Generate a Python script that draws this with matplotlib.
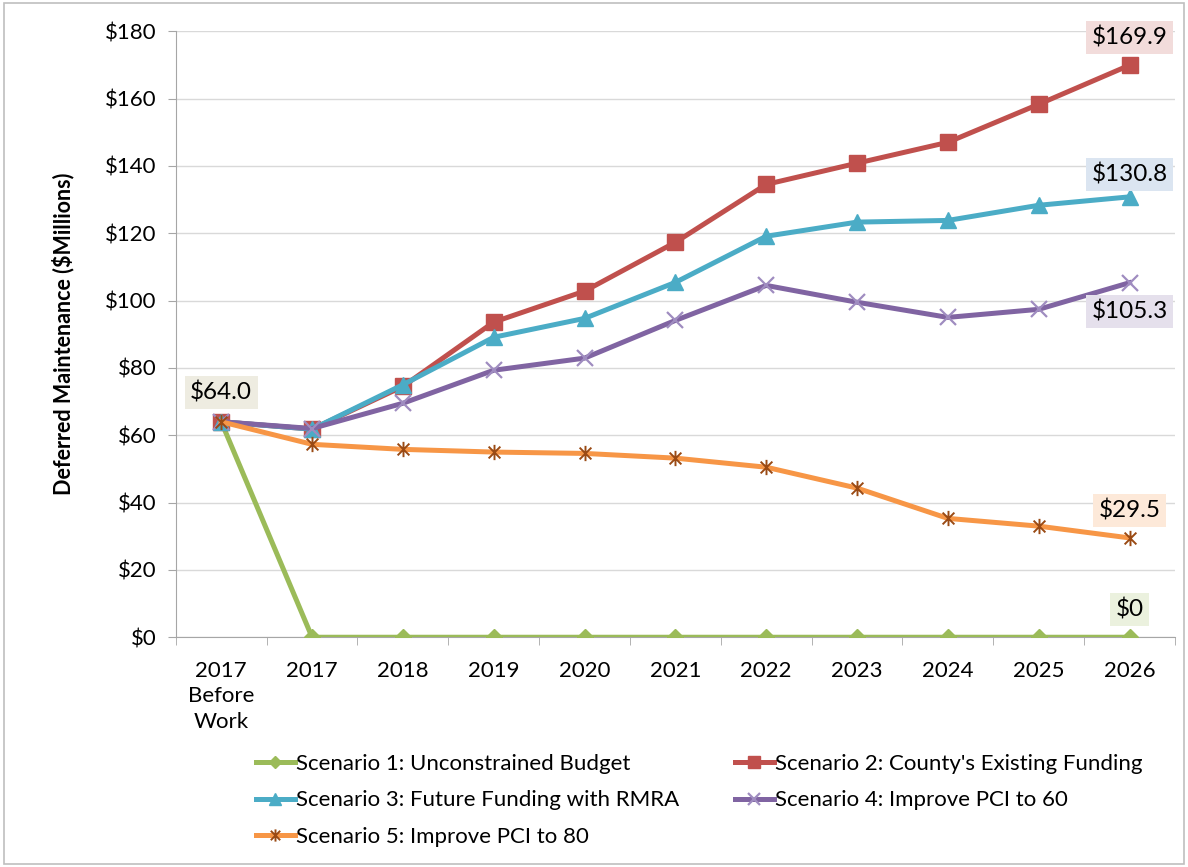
import matplotlib.pyplot as plt
import numpy as np
from matplotlib.path import Path
from matplotlib.patches import Rectangle

plt.rcParams['font.family'] = ['Lato', 'DejaVu Sans']

categories = ['2017\nBefore\nWork', '2017', '2018', '2019', '2020', '2021',
              '2022', '2023', '2024', '2025', '2026']

s1 = [64.0, 0, 0, 0, 0, 0, 0, 0, 0, 0, 0]
s2 = [64.0, 61.8, 74.5, 93.6, 102.8, 117.3, 134.5, 140.8, 147.0, 158.3, 169.9]
s3 = [64.0, 61.8, 75.0, 89.1, 94.7, 105.4, 119.1, 123.3, 123.8, 128.3, 130.8]
s4 = [64.0, 62.0, 69.5, 79.3, 82.9, 94.1, 104.5, 99.5, 95.0, 97.4, 105.3]
s5 = [64.0, 57.3, 55.8, 55.0, 54.6, 53.2, 50.5, 44.3, 35.3, 33.0, 29.5]

names = ['Scenario 1: Unconstrained Budget',
         "Scenario 2: County's Existing Funding",
         'Scenario 3: Future Funding with RMRA',
         'Scenario 4: Improve PCI to 60',
         'Scenario 5: Improve PCI to 80']

# excel-ish "star" marker: an x with a vertical bar
star = Path([(-1, -1), (1, 1), (-1, 1), (1, -1), (0, -1.3), (0, 1.3)],
            [Path.MOVETO, Path.LINETO, Path.MOVETO, Path.LINETO, Path.MOVETO, Path.LINETO])

fig = plt.figure(figsize=(11.88, 8.67), dpi=100)
ax = fig.add_axes([0.148, 0.265, 0.841, 0.699])

x = np.arange(len(categories))
lw = 3.6
h1, = ax.plot(x, s1, color='#9BBB59', lw=lw, marker='D', ms=8, mfc='#9BBB59', mec='#9BBB59', zorder=3)
h2, = ax.plot(x, s2, color='#C0504D', lw=lw, marker='s', ms=11, mfc='#C0504D', mec='#C0504D', zorder=3)
h3, = ax.plot(x, s3, color='#4BACC6', lw=lw, marker='^', ms=11, mfc='#4BACC6', mec='#4BACC6', zorder=3)
h4, = ax.plot(x, s4, color='#8064A2', lw=lw, marker='x', ms=11, mew=1.6, mec='#9F8CC0', zorder=3)
h5, = ax.plot(x, s5, color='#F79646', lw=lw, marker=star, ms=11, mew=1.4, mec='#9A4A14', mfc='none', zorder=3)

fs = 16
ax.set_xlim(-0.5, len(categories) - 0.5)
ax.set_ylim(0, 180)
ax.set_yticks(np.arange(0, 181, 20))
ax.set_yticklabels(['$%d' % v for v in range(0, 181, 20)], fontsize=fs)
ax.set_xticks(x)
ax.set_xticklabels(categories, fontsize=fs, linespacing=1.35, va='top')
ax.set_xticks(np.arange(-0.5, len(categories), 1), minor=True)
ax.tick_params(axis='x', which='major', length=0, pad=17)
ax.tick_params(axis='x', which='minor', length=6, color='#a6a6a6', direction='out')
ax.tick_params(axis='y', length=6, color='#a6a6a6', pad=8)

ax.grid(axis='y', color='#d9d9d9', linewidth=1.0)
ax.set_axisbelow(True)
for side in ['top', 'right']:
    ax.spines[side].set_visible(False)
for side in ['left', 'bottom']:
    ax.spines[side].set_color('#a6a6a6')

ax.set_ylabel('Deferred Maintenance ($Millions)', fontsize=15.5, fontweight='bold', labelpad=22)

# data labels with shaded boxes
last = len(categories) - 1
labels = [
    (0, s1[0], '$64.0', '#EEECE1', 13),
    (last, s2[-1], '$169.9', '#F2DCDB', 12),
    (last, s3[-1], '$130.8', '#DBE5F1', 8),
    (last, s4[-1], '$105.3', '#E5E0EC', -13),
    (last, s5[-1], '$29.5', '#FDE9D9', 12),
    (last, s1[-1], '$0', '#EBF1DE', 12),
]
for xi, yi, txt, bg, dy in labels:
    ax.annotate(txt, (xi, yi), xytext=(0, dy), textcoords='offset points',
                ha='center', va='bottom' if dy > 0 else 'top', fontsize=17.5,
                bbox=dict(boxstyle='square,pad=0.22', fc=bg, ec='none'), zorder=5)

order = [h1, h3, h5, h2, h4]
fig.legend(order, [names[0], names[2], names[4], names[1], names[3]],
           loc='upper left', bbox_to_anchor=(0.208, 0.141), ncol=2, frameon=False,
           fontsize=fs, handlelength=1.75, handletextpad=0.05, columnspacing=2.5,
           labelspacing=0.75, borderaxespad=0, markerscale=0.8)

fig.patches.append(Rectangle((0.003, 0.004), 0.994, 0.992, transform=fig.transFigure,
                             fill=False, ec='#bfbfbf', lw=1.2))

plt.savefig('out.png', dpi=100)
